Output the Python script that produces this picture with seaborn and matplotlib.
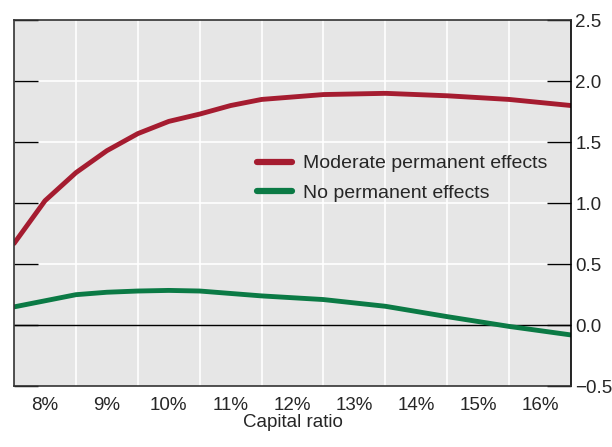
import numpy as np
import pandas as pd
import seaborn as sns
import matplotlib.pyplot as plt
from matplotlib.ticker import MultipleLocator, FixedLocator

# capital ratio (percent) and estimated net benefit
capital_ratio = [7.5, 8.0, 8.5, 9.0, 9.5, 10.0, 10.5, 11.0, 11.5, 12.0, 12.5, 13.5, 14.5, 15.5, 16.5]
moderate = [0.67, 1.02, 1.25, 1.43, 1.57, 1.67, 1.73, 1.80, 1.85, 1.87, 1.89, 1.90, 1.88, 1.85, 1.80]
no_perm = [0.15, 0.20, 0.25, 0.27, 0.28, 0.285, 0.28, 0.26, 0.24, 0.225, 0.21, 0.155, 0.07, -0.01, -0.08]
series_names = ['Moderate permanent effects', 'No permanent effects']
x_labels = ['8%', '9%', '10%', '11%', '12%', '13%', '14%', '15%', '16%']

df = pd.DataFrame({
    'ratio': capital_ratio * 2,
    'value': moderate + no_perm,
    'series': [series_names[0]] * len(moderate) + [series_names[1]] * len(no_perm),
})

sns.set_style('white')
plt.rcParams['font.family'] = ['Liberation Sans', 'DejaVu Sans']

fig = plt.figure(figsize=(6.12, 4.47), dpi=100)
ax = fig.add_axes([0.023, 0.136, 0.910, 0.819])
ax.set_facecolor('#e6e6e6')

sns.lineplot(data=df, x='ratio', y='value', hue='series',
             palette=['#a51c30', '#0b7a45'], linewidth=3.5, ax=ax)

ax.set_xlim(7.5, 16.5)
ax.set_ylim(-0.5, 2.5)

# gridlines between the labels
for xv in np.arange(8.5, 16.0, 1.0):
    ax.axvline(xv, color='white', lw=1.2, zorder=0.5)
for yv in [0.5, 1.0, 1.5, 2.0]:
    ax.axhline(yv, color='white', lw=1.2, zorder=0.5)
ax.axhline(0, color='black', lw=1.0, zorder=1)

ax.xaxis.set_major_locator(FixedLocator(np.arange(8, 17, 1.0)))
ax.set_xticklabels(x_labels)
ax.xaxis.set_minor_locator(FixedLocator(np.arange(8.5, 16.0, 1.0)))
ax.tick_params(axis='x', which='major', length=0, labelsize=13.5, pad=8)
ax.tick_params(axis='x', which='minor', direction='in', length=17, width=1, color='black')

ax.yaxis.set_major_locator(MultipleLocator(0.5))
ax.yaxis.set_major_formatter(plt.FuncFormatter(lambda v, p: f'{v:.1f}'.replace('-', '\u2212')))
ax.tick_params(axis='y', which='major', direction='in', length=17, width=1, color='black',
               left=True, right=True, labelleft=False, labelright=True, labelsize=13.5, pad=3)

for s in ax.spines.values():
    s.set_color('#333333')
    s.set_linewidth(1.2)
ax.spines['right'].set_color('black')

ax.set_xlabel('Capital ratio', fontsize=13.5, labelpad=0)
ax.set_ylabel('')

leg = ax.legend(loc='upper left', bbox_to_anchor=(0.405, 0.68), frameon=False,
                fontsize=14, handlelength=1.8, labelspacing=0.6, handletextpad=0.55)
for line in leg.get_lines():
    line.set_linewidth(4.5)

fig.savefig('out.png', dpi=100)
